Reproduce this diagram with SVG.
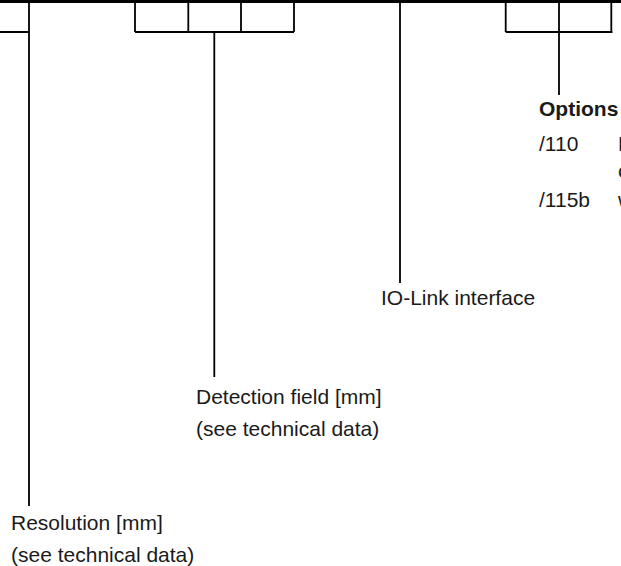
<svg xmlns="http://www.w3.org/2000/svg" width="621" height="566" viewBox="0 0 621 566">
<style>
.ln{stroke:#000;stroke-width:1.8;fill:none}
.tp{stroke:#000;stroke-width:3;fill:none}
text{font-family:"Liberation Sans",Arial,Helvetica,sans-serif;font-size:21px;fill:#1a1a1a}
.b{font-weight:bold}
</style>
<g id="code-bar">
<line class="tp" x1="0" y1="1.5" x2="621" y2="1.5"/>
</g>
<g id="connectors">
<path class="ln" d="M0 32H29M29 0V506"/>
<path class="ln" d="M135 0V32M188.3 0V32M241 0V32M294 0V32M135 32H294M214.3 32V377"/>
<path class="ln" d="M400 0V283"/>
<path class="ln" d="M505.7 0V32M559 0V32M611.3 0V32M505.7 32H612.5M559 32V95"/>
</g>
<g id="resolution">
<text x="11" y="530">Resolution [mm]</text>
<text x="11" y="562">(see technical data)</text>
</g>
<g id="detection-field">
<text x="196" y="404">Detection field [mm]</text>
<text x="196" y="436">(see technical data)</text>
</g>
<g id="io-link">
<text x="381" y="305">IO-Link interface</text>
</g>
<g id="options">
<text class="b" x="539" y="116">Options</text>
<text x="539" y="150.5">/110</text>
<text x="618" y="150.5">L</text>
<text x="618" y="178">c</text>
<text x="539" y="206.5">/115b</text>
<text x="618" y="206.5">w</text>
</g>
</svg>
